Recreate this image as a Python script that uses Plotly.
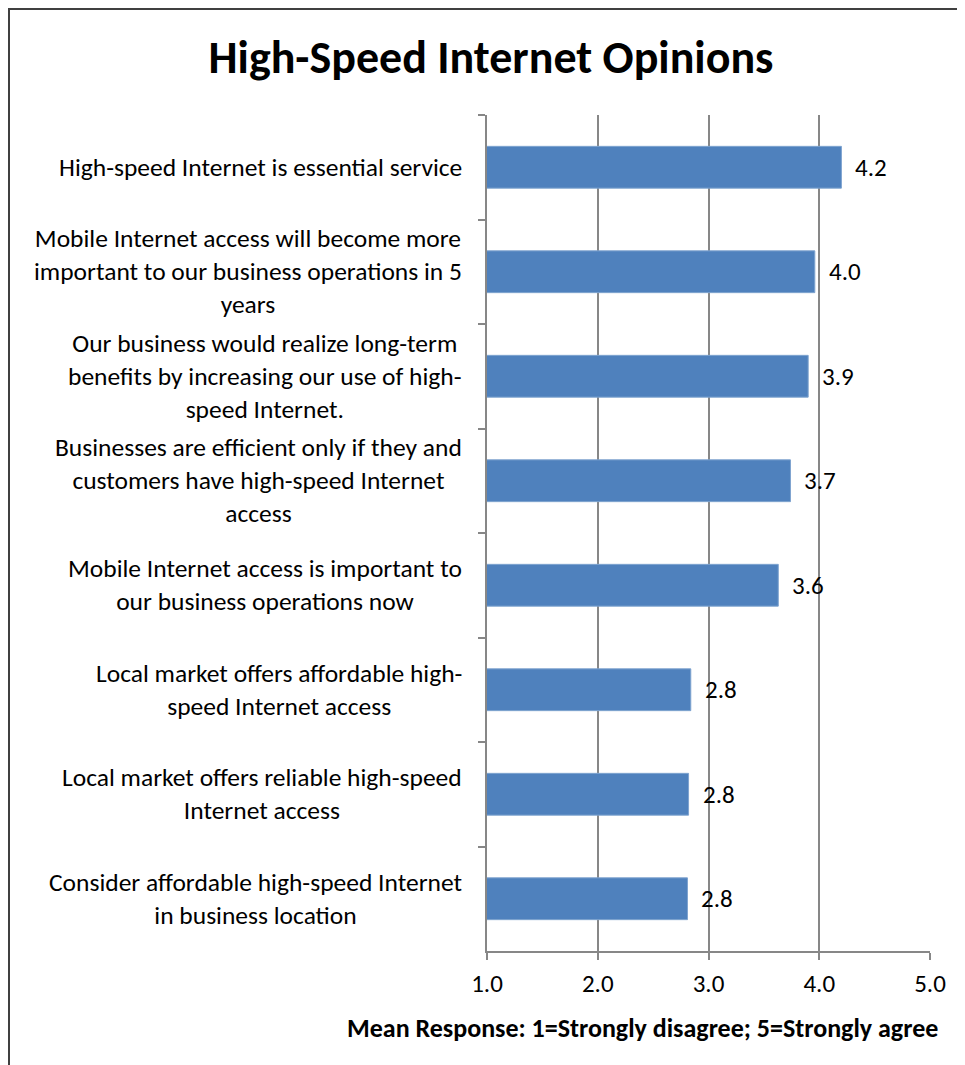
"""
High-Speed Internet Opinions
Mean agreement score per statement, horizontal bar chart
"""

import plotly.graph_objects as go

# Data
STATEMENTS = [
    'High-speed Internet is essential service',
    'Mobile Internet access will become more<br>important to our business operations in 5<br>years',
    'Our business would realize long-term<br>benefits by increasing our use of high-<br>speed Internet.',
    'Businesses are efficient only if they and<br>customers have high-speed Internet<br>access',
    'Mobile Internet access is important to<br>our business operations now',
    'Local market offers affordable high-<br>speed Internet access',
    'Local market offers reliable high-speed<br>Internet access',
    'Consider affordable high-speed Internet<br>in business location',
]
MEAN_SCORES = [4.20, 3.96, 3.90, 3.74, 3.63, 2.84, 2.82, 2.81]
X_TICKS = [1, 2, 3, 4, 5]

# Style
FONT = 'Carlito, Calibri, Lato, sans-serif'
BAR_COLOR = '#4F81BD'
AXIS_GRAY = '#878787'
WIDTH, HEIGHT = 965, 1065
OFFSET = 8  # page body margin, the figure starts 8px in
# plot area on screen: x 487..930, y 115..951
MARGIN = dict(l=487 - OFFSET, r=WIDTH - (930 - OFFSET), t=115 - OFFSET, b=HEIGHT - (951 - OFFSET))


def px_to_paper_x(px):
    return (px - 487) / (930 - 487)


def px_to_paper_y(py):
    return (951 - py) / (951 - 115)


fig = go.Figure(go.Bar(
    x=MEAN_SCORES,
    y=STATEMENTS,
    orientation='h',
    marker=dict(color=BAR_COLOR, line=dict(color='#7EA3CF', width=1)),
    width=0.4,
    hoverinfo='x+y',
))

# statement labels (centered lines, right-aligned block like Excel)
for s in STATEMENTS:
    fig.add_annotation(
        x=0, xref='paper', y=s, yref='y',
        text=s, showarrow=False, xanchor='right', xshift=-23,
        align='center', font=dict(family=FONT, size=25.5, color='black'),
    )

# value labels
for s, v in zip(STATEMENTS, MEAN_SCORES):
    fig.add_annotation(
        x=v, xref='x', y=s, yref='y',
        text=f'{v:.1f}', showarrow=False, xanchor='left', xshift=12,
        font=dict(family=FONT, size=25, color='black'),
    )

# axis title
fig.add_annotation(
    x=px_to_paper_x(940), xref='paper', y=px_to_paper_y(1028), yref='paper',
    text='<b>Mean Response: 1=Strongly disagree; 5=Strongly agree</b>',
    showarrow=False, xanchor='right', yanchor='middle',
    font=dict(family=FONT, size=26, color='black'),
)

# chart border (right and bottom fall outside the picture)
fig.add_shape(
    type='rect', xref='paper', yref='paper',
    x0=px_to_paper_x(9), x1=px_to_paper_x(1100),
    y0=px_to_paper_y(1200), y1=px_to_paper_y(9),
    line=dict(color='#404040', width=2), layer='above',
)

fig.update_layout(
    title=dict(
        text='<b>High-Speed Internet Opinions</b>',
        x=(491 - OFFSET) / WIDTH, xanchor='center',
        y=1 - (57 - OFFSET) / HEIGHT, yanchor='middle',
        font=dict(family=FONT, size=46, color='black'),
    ),
    width=WIDTH, height=HEIGHT,
    margin=MARGIN,
    plot_bgcolor='white', paper_bgcolor='white',
    font=dict(family=FONT, size=25, color='black'),
    showlegend=False,
    xaxis=dict(
        range=[1, 5], tickvals=X_TICKS, tickformat='.1f',
        showgrid=True, gridcolor=AXIS_GRAY, gridwidth=1.5,
        showline=True, linecolor=AXIS_GRAY, linewidth=1.5,
        ticks='outside', ticklen=7, tickcolor=AXIS_GRAY, tickwidth=1.5,
        ticklabelstandoff=2,
        zeroline=False, tickfont=dict(family=FONT, size=25),
    ),
    yaxis=dict(
        autorange='reversed', showticklabels=False,
        showline=True, linecolor=AXIS_GRAY, linewidth=1.5,
        ticks='outside', ticklen=7, tickcolor=AXIS_GRAY, tickwidth=1.5,
        tickson='boundaries', showgrid=False,
    ),
)

fig.write_html('out.html')
